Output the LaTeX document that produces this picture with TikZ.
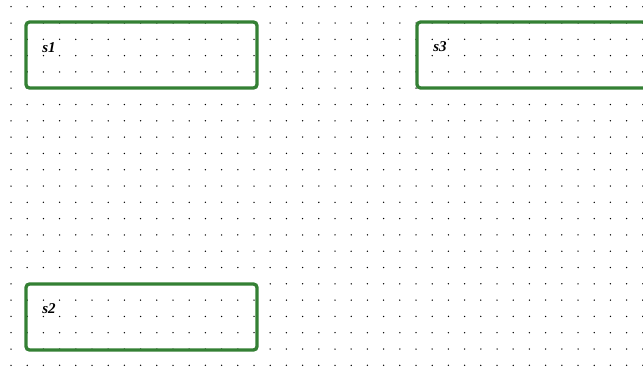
\documentclass[tikz,border=0pt]{standalone}
\usepackage{fontspec}
\setmainfont{Liberation Serif}
\definecolor{boxgreen}{RGB}{52,128,52}
\begin{document}
\begin{tikzpicture}[x=1pt,y=-1pt,
  statebox/.style={draw=boxgreen,line width=3.3pt,rounded corners=3.5pt,fill=none,inner sep=0pt},
  statelabel/.style={font=\fontsize{15}{17}\selectfont\bfseries\itshape,inner sep=0pt,anchor=center}]
\useasboundingbox (0,0) rectangle (643,367);
\clip (0,0) rectangle (643,367);
\fill[white] (0,0) rectangle (643,367);
\foreach \i in {0,...,39} {
  \foreach \j in {0,...,22} {
    \fill[black] ({11+16.2*\i},{6.7+16.3*\j}) circle (0.75pt);
  }
}
\node[statebox,minimum width=231pt,minimum height=66pt] (s1) at (141.5,55) {};
\node[statebox,minimum width=240pt,minimum height=66pt] (s3) at (537,55) {};
\node[statebox,minimum width=231pt,minimum height=66pt] (s2) at (141.5,317) {};
\node[statelabel] (s1l) at (49,48) {s1};
\node[statelabel] (s3l) at (440,47) {s3};
\node[statelabel] (s2l) at (49,309) {s2};
\end{tikzpicture}
\end{document}
